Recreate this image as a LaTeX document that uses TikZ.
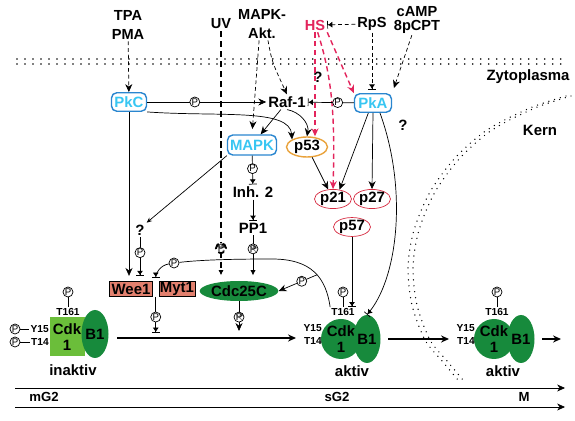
\documentclass[tikz,border=0pt]{standalone}
\usepackage{fontspec}
\setmainfont{Liberation Sans}
\usepackage{tikz}
\usetikzlibrary{arrows.meta,shapes.geometric,calc}
\definecolor{KinCyan}{HTML}{38C6F2}
\definecolor{KinBlue}{HTML}{2A86CF}
\definecolor{HSRed}{HTML}{E3245C}
\definecolor{CkiRed}{HTML}{D62A40}
\definecolor{P53Orange}{HTML}{E9A23B}
\definecolor{WeeSalmon}{HTML}{E2806E}
\definecolor{CdkGreen}{HTML}{178A3C}
\definecolor{CdkLight}{HTML}{6BBE3A}

\begin{document}
\begin{tikzpicture}[x=0.2mm,y=-0.2mm,>={Stealth[length=4.5pt,width=4pt]},
    every node/.style={font=\fontsize{8.5}{9.5}\selectfont\bfseries, inner sep=1pt, align=center},
    stim/.style={font=\fontsize{8.3}{10.5}\selectfont\bfseries},
    site/.style={font=\fontsize{5.8}{6}\selectfont\bfseries, inner sep=0.5pt},
    kinase/.style={draw=KinBlue, thick, rounded corners=3pt, text=KinCyan, minimum height=3.7mm, inner sep=0pt},
    cki/.style={ellipse, draw=CkiRed, inner sep=0pt, minimum width=7.4mm, minimum height=3.7mm},
    phos/.style={circle, draw, fill=white, inner sep=0pt, minimum size=2mm, font=\fontsize{5.5}{6}\selectfont},
    phosx/.style={phos, path picture={\draw[gray] (path picture bounding box.north west) -- (path picture bounding box.south east)
        (path picture bounding box.north east) -- (path picture bounding box.south west);}},
    inhib/.style={-{Latex[length=2.5pt,width=3.5pt]Bar[width=4.5pt]}},
    dashline/.style={dash pattern=on 2.2pt off 1.6pt},
    uvline/.style={line width=1.1pt, dash pattern=on 3.5pt off 2.2pt},
    hsline/.style={HSRed, thick, dash pattern=on 3pt off 2pt},
    dotrow/.style={line width=1pt, line cap=round, dash pattern=on 0pt off 4.55pt},
    mainarrow/.style={line width=1.1pt, ->}]
\useasboundingbox (0,0) rectangle (575,421);

\node[stim] (tpa) at (128,25) {TPA\\PMA};
\node[stim] (uv) at (221,24) {UV};
\node[stim] (akt) at (262,24) {MAPK-\\Akt.};
\node[stim, text=HSRed] (hs) at (315,25) {HS};
\node[stim] (rps) at (372,24) {RpS};
\node[stim, font=\fontsize{8.3}{7.5}\selectfont\bfseries] (camp) at (417,20) {cAMP\\8pCPT};

\draw[dotrow] (17,59) -- (565,59);
\draw[dotrow] (17,64) -- (565,64);
\node (zyto) at (528,77) {Zytoplasma};
\node (kern) at (540,130) {Kern};
\foreach \dx in {0,1}
  \draw[dotrow, line width=0.8pt, dash pattern=on 0pt off 3.4pt, xshift=\dx mm]
    plot[smooth] coordinates {(566,96) (530,108) (487,130) (455,158) (430,192) (414,230) (408,267) (412,305) (425,340) (443,362) (458,380)};

\node[kinase, minimum width=7mm] (pkc) at (129,102) {PkC};
\node (raf) at (287,102) {Raf-1};
\node[kinase, minimum width=7.4mm] (pka) at (373,103) {PkA};
\node[kinase, minimum width=9.8mm, minimum height=4mm] (mapk) at (252,145) {MAPK};
\node[ellipse, draw=P53Orange, thick, inner sep=0pt, minimum width=8.2mm, minimum height=4mm] (p53) at (307,147) {p53};
\node[cki] (p21) at (333,199) {p21};
\node[cki] (p27) at (372,199) {p27};
\node[cki] (p57) at (352,227) {p57};
\node (inh) at (253,192) {Inh. 2};
\node (pp1) at (253,228) {PP1};
\node (q1) at (140,230) {?};
\node (q2) at (318,77) {?};
\node (q3) at (403,125) {?};

\node[draw, fill=WeeSalmon, minimum width=8.6mm, minimum height=3mm, inner sep=0pt] (wee) at (131,289) {Wee1};
\node[draw, fill=WeeSalmon, minimum width=7.2mm, minimum height=3mm, inner sep=0pt] (myt) at (177,289) {Myt1};
\node[ellipse, fill=CdkGreen, minimum width=14mm, minimum height=4mm, inner sep=0pt] (cdc) at (239,291) {Cdc25C};
\coordinate (wmtop) at ($(wee.north east)!0.5!(myt.north west)$);
\coordinate (wmbot) at ($(wee.south east)!0.5!(myt.south west)$);

\node[fill=CdkLight, minimum width=7mm, minimum height=7.8mm, inner sep=0pt] (cdki) at (67,337) {Cdk\\1};
\node[ellipse, fill=CdkGreen, minimum width=5.2mm, minimum height=9.6mm, inner sep=0pt] (b1i) at (95,334) {B1};
\node[site] (t161i) at (68,312) {T161};
\node[phos] (pt161i) at (68,292) {P};
\node[site, anchor=east] (y15i) at (50,329) {Y15};
\node[site, anchor=east] (t14i) at (50,342) {T14};
\node[phos] (py15i) at (15,329) {P};
\node[phos] (pt14i) at (15,342) {P};
\node (inaktiv) at (73,370) {inaktiv};

\node[circle, fill=CdkGreen, minimum size=8mm, inner sep=0pt] (cdka) at (341,339) {Cdk\\1};
\node[ellipse, fill=CdkGreen, minimum width=5mm, minimum height=9.6mm, inner sep=0pt] (b1a) at (367,339) {B1};
\node[site] (t161a) at (343,312) {T161};
\node[phos] (pt161a) at (343,292) {P};
\node[site, anchor=east] (y15a) at (323,328) {Y15};
\node[site, anchor=east] (t14a) at (323,341) {T14};
\node (aktiv1) at (352,371) {aktiv};

\node[circle, fill=CdkGreen, minimum size=8mm, inner sep=0pt] (cdkb) at (494,339) {Cdk\\1};
\node[ellipse, fill=CdkGreen, minimum width=5mm, minimum height=9.6mm, inner sep=0pt] (b1b) at (521,339) {B1};
\node[site] (t161b) at (497,312) {T161};
\node[phos] (pt161b) at (497,292) {P};
\node[site, anchor=east] (y15b) at (476,328) {Y15};
\node[site, anchor=east] (t14b) at (476,341) {T14};
\node (aktiv2) at (503,371) {aktiv};

\coordinate (m1) at (117,338);
\coordinate (m2) at (296,338);
\coordinate (m3) at (388,339);
\coordinate (m4) at (449,339);
\coordinate (m5) at (542,339);
\coordinate (m6) at (561,339);

\draw (pt161i) -- (t161i);
\draw (py15i) -- (y15i);
\draw (pt14i) -- (t14i);
\draw (pt161a) -- (t161a);
\draw (pt161b) -- (t161b);

\draw[dashline,->] (tpa) -- (pkc);
\draw[dashline,->] (akt.-70) .. controls (272,62) .. (raf.north);
\draw[dashline,->, shorten >=3pt] (akt.-100) -- (mapk.north);
\draw[dashline,inhib] (rps) -- (hs);
\draw[dashline,inhib, shorten >=2pt] (rps) -- (rps |- pka.north);
\draw[dashline,->, shorten >=3pt] (camp) -- (pka.north east);
\draw[hsline,->] (hs.south east) -- (pka.north west);
\draw[hsline,->] (hs.south) -- (hs.south |- p53.north);
\draw[hsline,->] (hs.-70) .. controls (333,80) and (335,120) .. (p21.north);

\draw[->] (pkc) -- node[phos, pos=0.4] {P} (raf);
\draw[inhib] (pka) -- node[phos, pos=0.35] {P} (raf);
\draw[->] (pkc.south east) .. controls (220,117) and (290,108) .. (p53.north west);
\draw[->] (raf.south) to[out=-10, in=80] (p53.north);
\draw[->] (raf) -- (mapk);
\draw[inhib] (mapk) -- node[phos, pos=0.45] {P} (inh);
\draw[inhib] (inh) -- (pp1);
\draw[-{Latex[length=3pt,width=3pt]}, shorten >=3pt] (pp1) -- node[phosx, pos=0.3] {P} (pp1 |- cdc.north);
\draw[uvline, -{Latex[length=3pt,width=3pt]}, shorten >=3pt] (uv) -- node[phosx, pos=0.87] {P} (uv |- cdc.north);
\draw[thin, ->, >={Stealth[length=3pt,width=2.5pt]}] (mapk.south west) -- (q1.north east);
\draw[inhib, shorten >=3pt] (q1) -- node[phos, pos=0.35] {P} (q1 |- wee.north);
\draw[->, shorten >=3pt] (pkc) -- (pkc |- wee.north);

\draw[->] (p53) -- (p21);
\draw[->] (pka.-115) -- (p21.55);
\draw[->] (pka.south) -- (p27.north);
\draw[inhib] (pka.-55) .. controls (408,190) and (398,280) .. (b1a.north);
\draw[inhib] (p57) -- (p57 |- t161a.north);

\node[phos] (parc) at (174,263) {P};
\draw (t161a.north west) .. controls (326,278) and (312,259) .. coordinate[pos=0.45] (br) (272,259)
      .. controls (230,259) and (200,260) .. (parc);
\draw[inhib, shorten >=2pt] (parc) to[out=190, in=90] (wmtop);
\draw[->] (br) -- node[phos, pos=0.4] {P} (cdc.east);

\draw[inhib, shorten >=3pt] (wmbot) -- node[phos, pos=0.49] {P} (wmbot |- m1);
\draw[->, shorten >=4pt] (cdc.south) -- node[phosx, pos=0.43] {P} (cdc.south |- m1);

\draw[mainarrow] (m1) -- (m2);
\draw[mainarrow] (m3) -- (m4);
\draw[mainarrow] (m5) -- (m6);

\draw[->] (15,388) -- (565,388);
\draw[->] (15,407) -- (565,407);
\node[font=\fontsize{7.5}{8}\selectfont\bfseries] (mg2) at (44,397) {mG2};
\node[font=\fontsize{7.5}{8}\selectfont\bfseries] (sg2) at (337,397) {sG2};
\node[font=\fontsize{7.5}{8}\selectfont\bfseries] (mph) at (524,397) {M};
\end{tikzpicture}
\end{document}
